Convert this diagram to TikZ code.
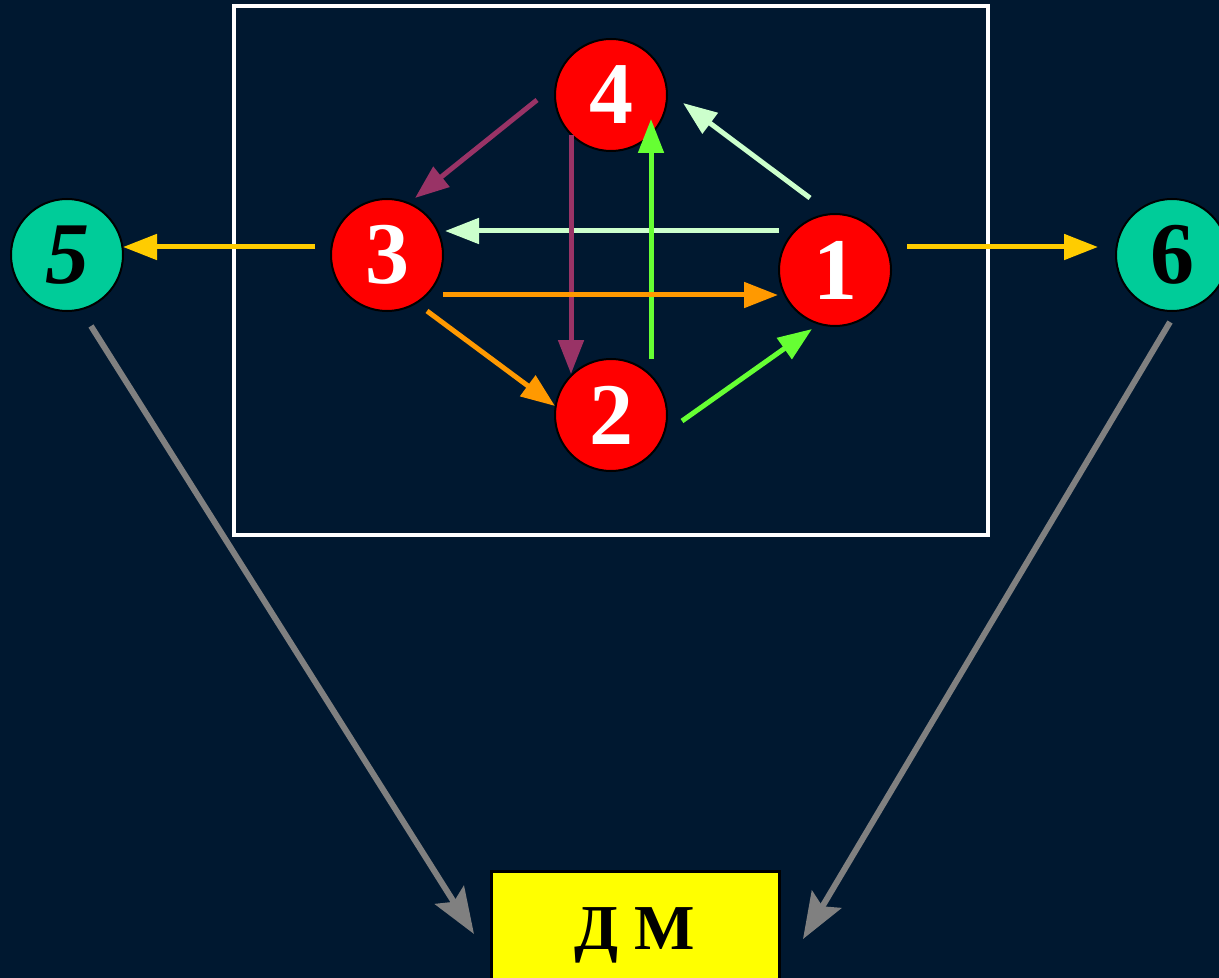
\documentclass[tikz,border=0pt]{standalone}
\usepackage{fontspec}
\setmainfont{Liberation Serif}
\usepackage{tikz}
\usetikzlibrary{arrows.meta, calc}
\definecolor{bgnavy}{RGB}{0, 24, 48}
\definecolor{nodered}{RGB}{255, 0, 0}
\definecolor{nodeteal}{RGB}{0, 204, 153}
\definecolor{arryellow}{RGB}{255, 204, 0}
\definecolor{arrorange}{RGB}{255, 153, 0}
\definecolor{arrpurple}{RGB}{153, 51, 102}
\definecolor{arrgreen}{RGB}{102, 255, 51}
\definecolor{arrmint}{RGB}{204, 255, 204}
\definecolor{arrgray}{RGB}{128, 128, 128}
\definecolor{dmyellow}{RGB}{255, 255, 0}

\begin{document}
\begin{tikzpicture}[
    x=0.5pt, y=-0.5pt,
    state/.style={circle, draw=black, line width=1pt, fill=#1, minimum size=56pt, inner sep=0pt, font=\fontsize{44}{44}\selectfont\bfseries},
    flow/.style={-{Triangle[length=17pt, width=12.5pt]}, line width=2.5pt, draw=#1},
    exit/.style={-{Stealth[length=23pt, width=17pt, inset=4pt]}, line width=3pt, draw=arrgray},
  ]

  \useasboundingbox (0,0) rectangle (1219,978);
  \fill[bgnavy] (0,0) rectangle (1219,978);

  % Frame
  \draw[white, line width=2pt] (234,6) rectangle (988,535);

  \node[state=nodered, text=white] (c1) at (835,270) {1};
  \node[state=nodered, text=white] (c2) at (611,415) {2};
  \node[state=nodered, text=white] (c3) at (387,255) {3};
  \node[state=nodered, text=white] (c4) at (611,95) {4};
  \node[state=nodeteal, text=black, font=\fontsize{44}{44}\selectfont\bfseries\itshape] (c5) at (67,255) {5};
  \node[state=nodeteal, text=black] (c6) at (1172,255) {6};

  \node[draw=black, line width=1.5pt, fill=dmyellow, minimum width=144pt, minimum height=58pt, text depth=0pt, font=\fontsize{32}{32}\selectfont\bfseries] (dm) at (635,929) {Д М};

  % Inner links
  \draw[flow=arrmint] ($(c1)+(-25,-72)$) -- ($(c4)+(72,8)$);
  \draw[flow=arrmint] ($(c1)+(-56,-39)$) -- ($(c3)+(58,-24)$);
  \draw[flow=arrpurple] ($(c4)+(-74,5)$) -- ($(c3)+(28,-57)$);
  \draw[flow=arrpurple] ($(c4)+(-40,40)$) -- ($(c2)+(-40,-41)$);
  \draw[flow=arrgreen] ($(c2)+(40,-56)$) -- ($(c4)+(40,24)$);
  \draw[flow=arrgreen] ($(c2)+(71,6)$) -- ($(c1)+(-23,59)$);
  \draw[flow=arrorange] ($(c3)+(56,40)$) -- ($(c1)+(-57,25)$);
  \draw[flow=arrorange] ($(c3)+(40,56)$) -- ($(c2)+(-56,-9)$);

  % Outputs
  \draw[flow=arryellow] ($(c3)+(-72,-8)$) -- ($(c5)+(56,-8)$);
  \draw[flow=arryellow] ($(c1)+(72,-23)$) -- ($(c6)+(-74,-8)$);

  \draw[exit] ($(c5)+(24,71)$) -- ($(dm)+(-161,5)$);
  \draw[exit] ($(c6)+(-2,67)$) -- ($(dm)+(168,10)$);

\end{tikzpicture}
\end{document}
